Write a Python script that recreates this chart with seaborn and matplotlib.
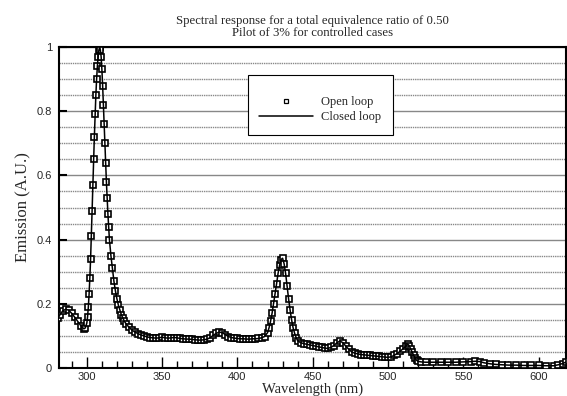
import matplotlib
matplotlib.use("Agg")
import matplotlib.pyplot as plt
import seaborn as sns
import pandas as pd
from matplotlib.ticker import MultipleLocator

wavelength = [
    281, 282, 284, 286, 288, 290, 292, 294, 296, 298, 299,
    300, 300.5, 301, 301.5, 302, 302.5, 303, 303.5, 304, 304.5, 305, 305.5, 306, 306.5, 307, 307.5,
    308, 308.5, 309, 309.5, 310, 310.5, 311, 311.5, 312, 312.5, 313, 313.5, 314, 314.5, 315,
    316, 317, 318, 319, 320, 321, 322, 323, 324, 325, 326,
    328, 330, 332, 334, 336, 338, 340, 342, 344, 346, 348, 350, 352, 354, 356, 358, 360, 362, 364,
    366, 368, 370, 372, 374, 376, 378, 380, 382, 384, 386, 388, 390, 392, 394, 396, 398, 400, 402,
    404, 406, 408, 410, 412, 414, 416, 418, 420,
    421, 422, 423, 424, 425, 426, 427, 428, 429, 430, 431, 432, 433, 434, 435, 436, 437, 438, 439, 440,
    442, 444, 446, 448, 450, 452, 454, 456, 458, 460, 462, 464, 466, 468, 470, 472, 474, 476, 478,
    480, 482, 484, 486, 488, 490, 492, 494, 496, 498, 500, 502, 504, 506, 508, 510,
    512, 513, 514, 515, 516, 517, 518, 519, 520,
    522, 525, 530, 535, 540, 545, 550, 555, 558, 561, 564, 568, 572, 576, 580, 585, 590, 595, 600,
    605, 610, 613, 616, 618, 620,
]

open_loop = [
    0.155, 0.165, 0.178, 0.183, 0.180, 0.170, 0.158, 0.145, 0.132, 0.122, 0.125,
    0.140, 0.160, 0.190, 0.230, 0.280, 0.340, 0.410, 0.490, 0.570, 0.650, 0.720, 0.790, 0.850, 0.900, 0.940, 0.970,
    0.990, 1.000, 0.990, 0.970, 0.930, 0.880, 0.820, 0.760, 0.700, 0.640, 0.580, 0.530, 0.480, 0.440, 0.400,
    0.350, 0.310, 0.270, 0.240, 0.215, 0.195, 0.180, 0.165, 0.155, 0.145, 0.138,
    0.127, 0.118, 0.112, 0.107, 0.103, 0.100, 0.097, 0.095, 0.094, 0.093, 0.094, 0.096, 0.094, 0.093, 0.094, 0.095, 0.094, 0.092, 0.091,
    0.090, 0.090, 0.089, 0.088, 0.087, 0.087, 0.088, 0.090, 0.095, 0.102, 0.108, 0.112, 0.110, 0.104, 0.098, 0.095, 0.093, 0.092, 0.091,
    0.091, 0.090, 0.090, 0.091, 0.091, 0.092, 0.094, 0.098, 0.110,
    0.125, 0.145, 0.170, 0.200, 0.230, 0.262, 0.295, 0.320, 0.338, 0.342, 0.325, 0.295, 0.255, 0.215, 0.180, 0.150, 0.125, 0.108, 0.095, 0.085,
    0.079, 0.076, 0.074, 0.072, 0.070, 0.068, 0.066, 0.064, 0.062, 0.061, 0.064, 0.070, 0.078, 0.084, 0.079, 0.068, 0.058, 0.050, 0.046,
    0.044, 0.042, 0.041, 0.040, 0.039, 0.038, 0.037, 0.036, 0.035, 0.034, 0.033, 0.035, 0.039, 0.045, 0.052, 0.060,
    0.068, 0.075, 0.070, 0.060, 0.050, 0.040, 0.030, 0.024, 0.021,
    0.019, 0.018, 0.018, 0.018, 0.018, 0.018, 0.019, 0.020, 0.021, 0.020, 0.016, 0.013, 0.011, 0.010, 0.009, 0.009, 0.008, 0.008, 0.008,
    0.007, 0.007, 0.010, 0.014, 0.018, 0.021,
]

closed_loop = list(open_loop)

legend_labels = ["Open loop", "Closed loop"]
title_text = "Spectral response for a total equivalence ratio of 0.50\nPilot of 3% for controlled cases"

df = pd.DataFrame({"wl": wavelength, "open": open_loop, "closed": closed_loop})

sns.set_theme(style="white")
plt.rcParams["font.family"] = ["Liberation Sans", "DejaVu Sans"]

fig = plt.figure(figsize=(5.67, 3.96), dpi=100)
ax = fig.add_axes([0.104, 0.0707, 0.895, 0.8106])

sns.lineplot(data=df, x="wl", y="open", ax=ax, estimator=None, sort=False,
             linestyle="none", marker="s", markersize=4.5, markerfacecolor="white",
             markeredgecolor="black", markeredgewidth=1.2, color="black",
             label=legend_labels[0], zorder=3)
sns.lineplot(data=df, x="wl", y="closed", ax=ax, estimator=None, sort=False,
             color="black", linewidth=1.1, label=legend_labels[1], zorder=4)

ax.set_xlim(281.5, 618.5)
ax.set_ylim(0, 1)
ax.xaxis.set_major_locator(MultipleLocator(50))
ax.xaxis.set_minor_locator(MultipleLocator(10))
ax.yaxis.set_major_locator(MultipleLocator(0.2))
ax.yaxis.set_minor_locator(MultipleLocator(0.05))
ax.set_yticks([0, 0.2, 0.4, 0.6, 0.8, 1.0])
ax.set_yticklabels(["0", "0.2", "0.4", "0.6", "0.8", "1"])

ax.grid(True, which="major", axis="y", color="#888888", linewidth=1.0, linestyle="-")
ax.grid(True, which="minor", axis="y", color="#888888", linewidth=1.0, linestyle=(0, (1, 0.6)))
ax.set_axisbelow(True)

ax.tick_params(axis="x", which="major", direction="in", length=8, width=1, color="black",
               labelsize=8, pad=3, bottom=True)
ax.tick_params(axis="x", which="minor", direction="in", length=5, width=1, color="black", bottom=True)
ax.tick_params(axis="y", which="major", direction="in", length=6, width=1.5, color="black",
               labelsize=8, pad=5, left=True)
ax.tick_params(axis="y", which="minor", left=False)

for s in ax.spines.values():
    s.set_color("black")
    s.set_linewidth(1.5)

ax.set_xlabel("Wavelength (nm)", family=["Liberation Serif"], fontsize=10.5, labelpad=0)
ax.set_ylabel("Emission (A.U.)", family=["Liberation Serif"], fontsize=12, labelpad=4)
ax.set_title(title_text, family=["Liberation Serif"], fontsize=9.2, pad=8, linespacing=1.0)

leg = ax.legend(loc="upper left", bbox_to_anchor=(0.372, 0.913), frameon=True, fancybox=False,
                edgecolor="black", prop={"family": "Liberation Serif", "size": 9},
                title=" ", title_fontsize=5,
                handlelength=4.3, borderpad=0.9, handletextpad=0.7, labelspacing=0.25,
                borderaxespad=0)
leg.get_frame().set_linewidth(0.8)
leg.get_frame().set_facecolor("white")
leg.get_frame().set_alpha(1)
leg.legend_handles[0].set_markersize(3.2)
leg.legend_handles[0].set_markeredgewidth(0.9)

fig.savefig("out.png", dpi=100)
